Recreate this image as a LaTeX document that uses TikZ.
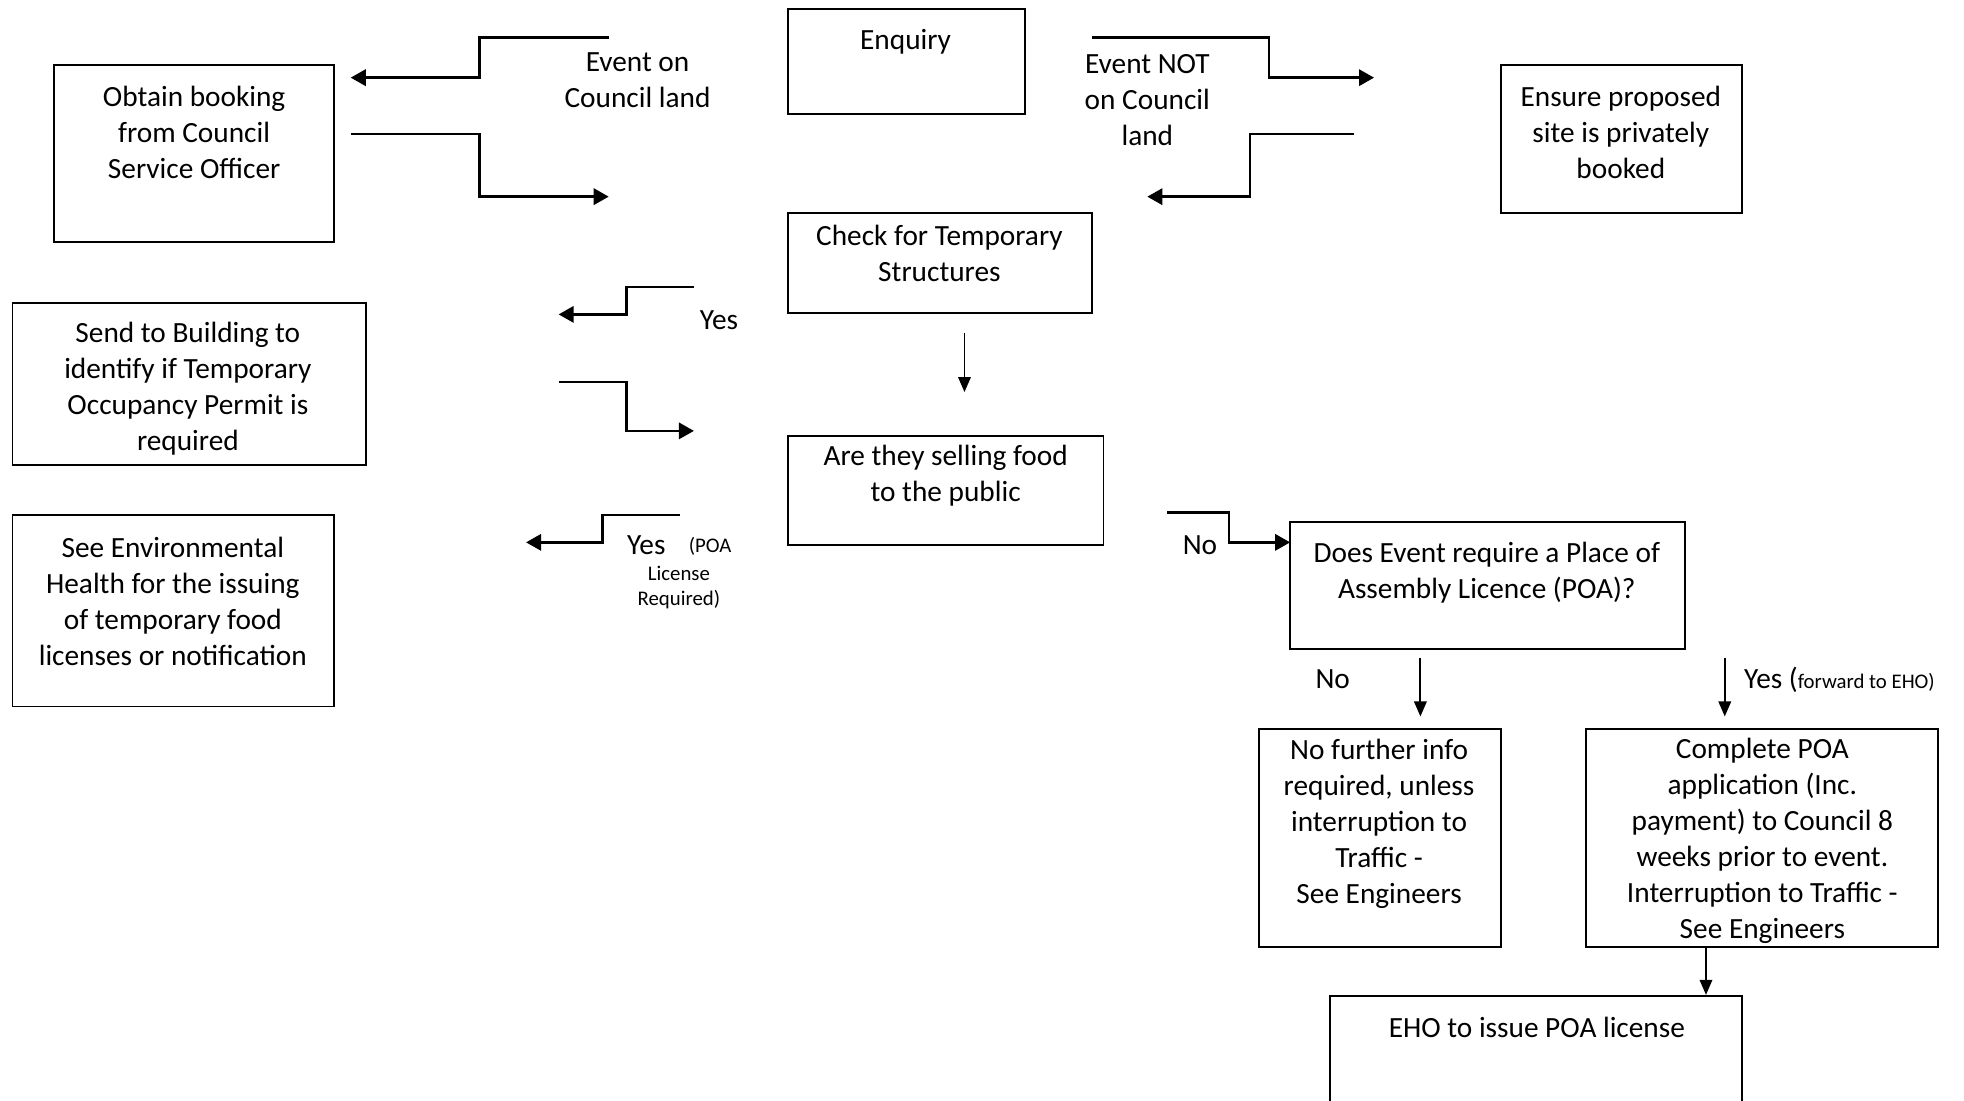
\documentclass[tikz,border=0pt]{standalone}
\usepackage{fontspec}
\setmainfont{Carlito}
\usetikzlibrary{arrows.meta,fit}
\begin{document}
\begin{tikzpicture}[x=0.5pt,y=-0.5pt,
  box/.style={draw, line width=0.75pt, inner sep=0pt},
  txt/.style={font=\fontsize{11.7}{14.35}\selectfont, align=center, inner sep=0pt},
  smalltxt/.style={font=\fontsize{8.3}{10}\selectfont, inner sep=0pt},
  conn/.style={line width=1pt, -{Triangle[length=6pt,width=6.5pt]}},
  down/.style={line width=0.75pt, -{Triangle[length=6pt,width=5pt]}}]
\useasboundingbox (0,0) rectangle (1568,879);
\clip (0,0) rectangle (1568,879);
% boxes
\node[box, fit={(629,7)(818,91)}] (enq) {};
\node[box, fit={(43,52)(267,193)}] (obt) {};
\node[box, fit={(1198,52)(1391,170)}] (ens) {};
\node[box, fit={(629,170)(872,250)}] (chk) {};
\node[box, fit={(10,242)(292,371)}] (send) {};
\node[box, fit={(629,348)(881,435)}] (sell) {};
\node[box, fit={(10,411)(267,564)}] (env) {};
\node[box, fit={(1030,417)(1345,518)}] (poa) {};
\node[box, fit={(1005,582)(1198,756)}] (nof) {};
\node[box, fit={(1266,582)(1547,756)}] (com) {};
\node[box, fit={(1062,795)(1391,900)}] (eho) {};
% box texts
\node[txt] (tEnq) at (723,33) {Enquiry};
\node[txt] (tObt) at (155,105.5) {Obtain booking\\from Council\\Service Officer};
\node[txt] (tEns) at (1294,105.5) {Ensure proposed\\site is privately\\booked};
\node[txt] (tChk) at (750,202) {Check for Temporary\\Structures};
\node[txt] (tSend) at (150,310.5) {Send to Building to\\identify if Temporary\\Occupancy Permit is\\required};
\node[txt] (tSell) at (755,379.5) {Are they selling food\\to the public};
\node[txt] (tEnv) at (138,480) {See Environmental\\Health for the issuing\\of temporary food\\licenses or notification};
\node[txt] (tPoa) at (1187,457) {Does Event require a Place of\\Assembly Licence (POA)?};
\node[txt] (tNof) at (1101,657.5) {No further info\\required, unless\\interruption to\\Traffic -\\See Engineers};
\node[txt] (tCom) at (1407,671.5) {Complete POA\\application (Inc.\\payment) to Council 8\\weeks prior to event.\\Interruption to Traffic -\\See Engineers};
\node[txt] (tEho) at (1227,820) {EHO to issue POA license};
% labels
\node[txt] (lOn) at (509,64) {Event on\\Council land};
\node[txt] (lNot) at (916,80) {Event NOT\\on Council\\land};
\node[txt] (lYes1) at (574,256) {Yes};
\node[txt] (lYes2) at (516,435) {Yes};
\node[smalltxt] (lPoa1) at (567,436) {(POA};
\node[smalltxt] (lPoa2) at (542,458) {License};
\node[smalltxt] (lPoa3) at (542,479) {Required)};
\node[txt] (lNo1) at (958,435) {No};
\node[txt] (lNo2) at (1064,542) {No};
\node[txt, anchor=west] (lYes3) at (1392,543) {Yes (\fontsize{8.3}{10}\selectfont forward to EHO)};
% connector ends
\coordinate (a1) at (486,30);  \coordinate (a2) at (280,62);
\coordinate (b1) at (280,107); \coordinate (b2) at (486,157);
\coordinate (c1) at (872,30);  \coordinate (c2) at (1097,62);
\coordinate (d1) at (1081,107); \coordinate (d2) at (916,157);
\coordinate (e1) at (554,229); \coordinate (e2) at (446,251);
\coordinate (f1) at (446,305); \coordinate (f2) at (554,344);
\coordinate (g1) at (770,266); \coordinate (g2) at (770,313);
\coordinate (h1) at (543,411); \coordinate (h2) at (420,433);
\coordinate (i1) at (932,409); \coordinate (i2) at (1030,433);
\coordinate (j1) at (1134,525); \coordinate (j2) at (1134,572);
\coordinate (k1) at (1377,525); \coordinate (k2) at (1377,572);
\coordinate (l1) at (1362,0);
% connectors
\draw[conn] (a1) -- ++(-103,0) |- (a2);
\draw[conn] (b1) -- ++(103,0) |- (b2);
\draw[conn] (c1) -- ++(141,0) |- (c2);
\draw[conn] (d1) -- ++(-83,0) |- (d2);
\draw[conn] (e1) -- ++(-54,0) |- (e2);
\draw[conn] (f1) -- ++(54,0) |- (f2);
\draw[down] (g1) -- (g2);
\draw[conn] (h1) -- ++(-62,0) |- (h2);
\draw[conn] (i1) -- ++(49,0) |- (i2);
\draw[down] (j1) -- (j2);
\draw[down] (k1) -- (k2);
\draw[down] (com.south -| l1) -- (eho.north -| l1);
\end{tikzpicture}
\end{document}
